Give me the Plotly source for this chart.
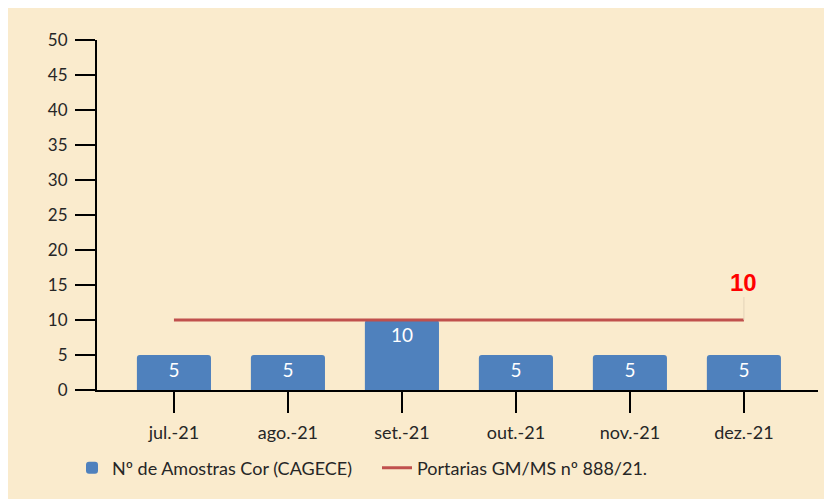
import plotly.graph_objects as go

months = ["jul.-21", "ago.-21", "set.-21", "out.-21", "nov.-21", "dez.-21"]
amostras = [5, 5, 10, 5, 5, 5]
limite = [10, 10, 10, 10, 10, 10]
y_ticks = [0, 5, 10, 15, 20, 25, 30, 35, 40, 45, 50]

BG = "#FAEBCD"
FONT = "Lato"

fig = go.Figure()
fig.add_trace(go.Bar(
    x=months, y=amostras, name="Nº de Amostras Cor (CAGECE)",
    marker=dict(color="#4F81BD", cornerradius=3, line=dict(width=0)),
    width=0.65,
    text=[str(v) for v in amostras], textposition="inside",
    insidetextanchor="end",
    textfont=dict(color="white", size=19, family=FONT),
))
fig.add_trace(go.Scatter(
    x=months, y=limite, name="Portarias GM/MS nº 888/21.",
    mode="lines", line=dict(color="#C0504D", width=3),
))

fig.add_annotation(
    x=months[-1], y=limite[-1], text="<b>10</b>",
    showarrow=True, arrowhead=0, arrowwidth=1, arrowcolor="#E3D3B8",
    ax=0, ay=-38, font=dict(color="#FF0000", size=24, family="Liberation Sans"),
)

W, H = 832, 499
L, R, T, B = 89, 22, 32, 117

fig.update_layout(
    width=W, height=H,
    margin=dict(l=L, r=R, t=T, b=B, autoexpand=False),
    paper_bgcolor=BG, plot_bgcolor=BG,
    font=dict(family=FONT, size=17, color="#000000"),
    showlegend=True,
    legend=dict(orientation="h", xref="container", yref="container",
                x=64 / W, y=1 - 460 / H, xanchor="left", yanchor="middle",
                font=dict(size=18, family=FONT, color="#262626"),
                bgcolor="rgba(0,0,0,0)", entrywidth=260, entrywidthmode="pixels"),
    bargap=0.35,
)
fig.update_xaxes(
    range=[-0.675, 5.65], showgrid=False, showline=True, linecolor="#000000",
    linewidth=2, ticks="outside", ticklen=21, tickwidth=2, tickcolor="#000000",
    tickfont=dict(size=18, family=FONT, color="#262626"), zeroline=False,
    ticklabelstandoff=4, automargin=False,
)
fig.update_yaxes(
    range=[0, 50], tickvals=y_ticks, showgrid=False, showline=True,
    linecolor="#000000", linewidth=2, ticks="outside", ticklen=20, tickwidth=2,
    tickcolor="#000000", tickfont=dict(size=17, family=FONT, color="#262626"),
    zeroline=False, ticklabelstandoff=4, automargin=False,
)

fig.write_html("out.html")
